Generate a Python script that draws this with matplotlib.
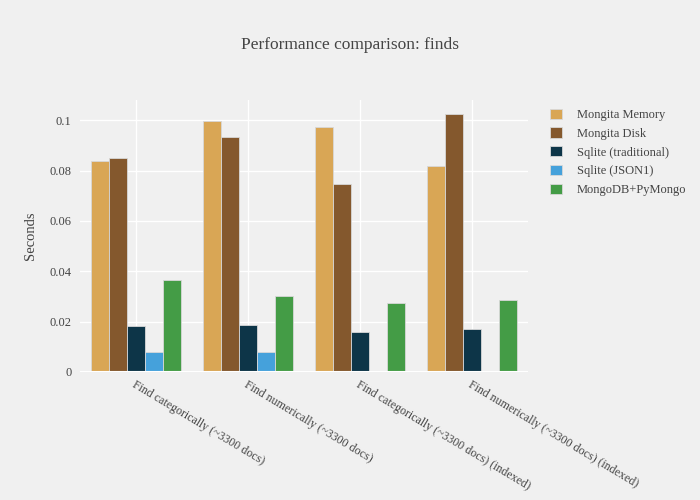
import matplotlib.pyplot as plt
import numpy as np

plt.rcParams['font.family'] = ['Liberation Serif', 'DejaVu Serif']

categories = ['Find categorically (~3300 docs)',
              'Find numerically (~3300 docs)',
              'Find categorically (~3300 docs) (indexed)',
              'Find numerically (~3300 docs) (indexed)']
series = ['Mongita Memory', 'Mongita Disk', 'Sqlite (traditional)',
          'Sqlite (JSON1)', 'MongoDB+PyMongo']
mongita_memory = [0.0837, 0.0996, 0.0971, 0.0818]
mongita_disk = [0.0849, 0.0935, 0.0745, 0.1026]
sqlite_trad = [0.0182, 0.0186, 0.0157, 0.0171]
sqlite_json = [0.0078, 0.0078, np.nan, np.nan]
mongodb = [0.0364, 0.0301, 0.0272, 0.0284]
colors = ['#D9A655', '#84582D', '#0D3548', '#45A1DB', '#449C46']
values = [mongita_memory, mongita_disk, sqlite_trad, sqlite_json, mongodb]

bg = '#f0f0f0'
fig = plt.figure(figsize=(7, 5), dpi=100, facecolor=bg)
ax = fig.add_axes([80/700, 1-372/500, 448/700, 272/500], facecolor=bg)

x = np.arange(len(categories))
w = 0.16
for i, (name, vals) in enumerate(zip(series, values)):
    ax.bar(x + (i - 2) * w, vals, w, color=colors[i], label=name,
           edgecolor='#d8d8d8', linewidth=0.6, zorder=3)

ax.set_xlim(-0.5, 3.5)
ax.set_ylim(0, 0.108)
ax.set_yticks([0, 0.02, 0.04, 0.06, 0.08, 0.1])
ax.set_yticklabels(['0', '0.02', '0.04', '0.06', '0.08', '0.1'])
ax.set_xticks(x)
ax.set_xticklabels(categories, rotation=-31, ha='left', rotation_mode='anchor')
ax.grid(True, color='white', linewidth=1, zorder=0)
for s in ax.spines.values():
    s.set_visible(False)
ax.tick_params(length=0, labelsize=9, colors='#444444', pad=6)
ax.tick_params(axis='x', labelsize=8.6, pad=5)
ax.axhline(0, color='white', linewidth=1.5, zorder=4)
ax.set_ylabel('Seconds', fontsize=10.5, color='#444444', labelpad=9)

fig.text(0.5, 1-45/500, 'Performance comparison: finds', ha='center',
         va='center', fontsize=12.5, color='#444444')

leg = ax.legend(loc='upper left', bbox_to_anchor=(1.025, 1.01), frameon=False,
                fontsize=9, handlelength=0.9, handleheight=0.9,
                labelspacing=0.5, handletextpad=1.2)
for t in leg.get_texts():
    t.set_color('#444444')

fig.savefig('out.png', dpi=100, facecolor=bg)
